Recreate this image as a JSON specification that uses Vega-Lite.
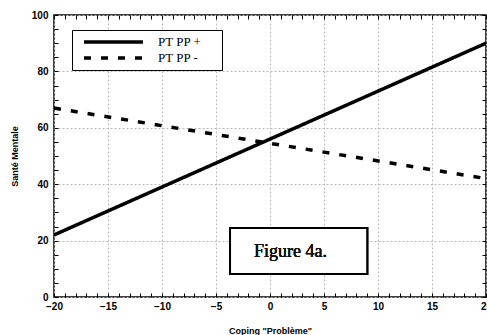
{
  "$schema": "https://vega.github.io/schema/vega-lite/v6.json",
  "autosize": "none",
  "width": 432,
  "height": 282,
  "padding": {"left": 54, "top": 15, "right": 1, "bottom": 38},
  "background": "white",
  "config": {
    "view": {"stroke": "black", "strokeWidth": 1.5},
    "axis": {
      "labelFont": "Liberation Sans",
      "labelFontWeight": "bold",
      "labelFontSize": 10,
      "labelColor": "black",
      "titleFont": "Liberation Sans",
      "titleFontWeight": "bold",
      "titleFontSize": 9,
      "titleColor": "#000000",
      "domain": false,
      "tickColor": "black",
      "tickSize": -4,
      "tickWidth": 1,
      "gridColor": "#b8b8b8",
      "gridDash": [2, 2],
      "gridWidth": 1
    }
  },
  "data": {
    "values": [
      {"coping": -20, "sante": 22, "groupe": "PT PP +"},
      {"coping": 20, "sante": 90, "groupe": "PT PP +"},
      {"coping": -20, "sante": 67, "groupe": "PT PP -"},
      {"coping": 20, "sante": 42, "groupe": "PT PP -"}
    ]
  },
  "layer": [
    {
      "mark": {"type": "line", "strokeWidth": 3.5, "color": "black", "clip": true},
      "encoding": {
        "x": {
          "field": "coping", "type": "quantitative",
          "scale": {"domain": [-20, 20], "nice": false, "zero": false},
          "axis": {
            "orient": "bottom",
            "title": "Coping \"Problème\"",
            "values": [-20,-19,-18,-17,-16,-15,-14,-13,-12,-11,-10,-9,-8,-7,-6,-5,-4,-3,-2,-1,0,1,2,3,4,5,6,7,8,9,10,11,12,13,14,15,16,17,18,19,20],
            "labelExpr": "datum.value % 5 === 0 ? datum.label : ''",
            "labelFlush": false,
            "labelPadding": 8,
            "titlePadding": 15,
            "grid": true,
            "gridOpacity": {"condition": {"test": "datum.value % 5 === 0", "value": 1}, "value": 0}
          }
        },
        "y": {
          "field": "sante", "type": "quantitative",
          "scale": {"domain": [0, 100], "nice": false},
          "axis": {
            "orient": "left",
            "title": "Santé Mentale",
            "values": [0,5,10,15,20,25,30,35,40,45,50,55,60,65,70,75,80,85,90,95,100],
            "labelExpr": "datum.value % 20 === 0 ? datum.label : ''",
            "labelPadding": 10,
            "titlePadding": 12,
            "grid": true,
            "gridOpacity": {"condition": {"test": "datum.value % 20 === 0", "value": 1}, "value": 0}
          }
        },
        "strokeDash": {
          "field": "groupe", "type": "nominal",
          "scale": {"domain": ["PT PP +", "PT PP -"], "range": [[1, 0], [7, 10]]},
          "legend": {
            "orient": "none",
            "legendX": 18,
            "legendY": 15,
            "title": " ",
            "titleOrient": "right",
            "titlePadding": 16,
            "titleFontSize": 2,
            "symbolType": "M0,0H11.8",
            "symbolSize": 100,
            "symbolStrokeWidth": 3.5,
            "symbolStrokeColor": "black",
            "symbolFillColor": "transparent",
            "labelFont": "Liberation Serif",
            "labelFontSize": 13,
            "labelColor": "black",
            "labelOffset": 67,
            "strokeColor": "black",
            "fillColor": "white",
            "padding": 5,
            "rowPadding": 2,
            "encode": {
              "symbols": {"update": {"strokeDash": {"signal": "datum.value === 'PT PP -' ? [4, 2.6] : [1, 0]"}}}
            }
          }
        }
      }
    },
    {
      "mark": {"type": "point", "opacity": 0},
      "encoding": {
        "x": {
          "field": "coping", "type": "quantitative",
          "axis": {
            "orient": "top", "title": null, "labels": false, "grid": false,
            "values": [-20,-19,-18,-17,-16,-15,-14,-13,-12,-11,-10,-9,-8,-7,-6,-5,-4,-3,-2,-1,0,1,2,3,4,5,6,7,8,9,10,11,12,13,14,15,16,17,18,19,20]
          }
        },
        "y": {
          "field": "sante", "type": "quantitative",
          "axis": {
            "orient": "right", "title": null, "labels": false, "grid": false,
            "values": [0,5,10,15,20,25,30,35,40,45,50,55,60,65,70,75,80,85,90,95,100]
          }
        }
      }
    },
    {
      "mark": {"type": "rect", "fill": "white", "stroke": "black", "strokeWidth": 2},
      "encoding": {
        "x": {"datum": -3.7, "type": "quantitative", "axis": null},
        "x2": {"datum": 9.0},
        "y": {"datum": 24.5, "type": "quantitative", "axis": null},
        "y2": {"datum": 8.2}
      }
    },
    {
      "mark": {"type": "text", "text": "Figure 4a.", "font": "Liberation Serif", "fontSize": 18, "fontWeight": "normal", "fill": "#111111", "align": "center", "baseline": "alphabetic"},
      "encoding": {
        "x": {"datum": 1.9, "type": "quantitative", "axis": null},
        "y": {"datum": 14.3, "type": "quantitative", "axis": null}
      }
    }
  ],
  "resolve": {"axis": {"x": "independent", "y": "independent"}}
}
